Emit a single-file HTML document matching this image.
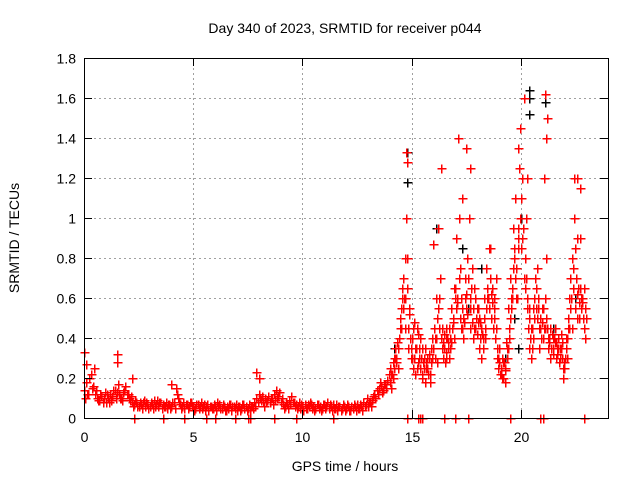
<!DOCTYPE html>
<html><head><meta charset="utf-8"><style>
body{margin:0;background:#fff}
svg{display:block;font-family:"Liberation Sans",sans-serif}
</style></head><body>
<svg id="chart" width="640" height="480">
<rect width="640" height="480" fill="#fff"/>
<text x="345" y="33" font-size="14" text-anchor="middle">Day 340 of 2023, SRMTID for receiver p044</text>
<text x="345" y="471" font-size="14" text-anchor="middle">GPS time / hours</text>
<text transform="translate(19,238) rotate(-90)" font-size="14" text-anchor="middle">SRMTID / TECUs</text>
<g id="grid"></g>
<g id="marks" shape-rendering="crispEdges"></g>
<rect x="84.5" y="58.5" width="524" height="360" fill="none" stroke="#000"/>
<g id="axes"></g>
</svg>
<script>
const xTicks=[0,5,10,15,20];
const yTicks=[0,0.2,0.4,0.6,0.8,1,1.2,1.4,1.6,1.8];
const yTickLabels=["0","0.2","0.4","0.6","0.8","1","1.2","1.4","1.6","1.8"];
const quietStart=0, quietStep=0.1;
const quietA=[.14,.18,.12,.22,.16,.12,.10,.09,.11,.10,.08,.10,.12,.11,.14,.13,.12,.10,.13,.16,.12,.09,.08,.07,.08,.06,.07,.08,.06,.07,.06,.07,.09,.07,.06,.08,.07,.06,.05,.07,.06,.08,.15,.10,.07,.06,.05,.07,.06,.08,.06,.05,.07,.06,.05,.07,.06,.04,.06,.05,.06,.08,.07,.05,.06,.04,.05,.07,.06,.05,.04,.06,.05,.07,.06,.05,.04,.06,.08,.10,.12,.09,.08,.10,.09,.08,.10,.12,.14,.11,.08,.07,.06,.07,.09,.11,.08,.07,.06,.05,.06,.07,.05,.06,.07,.06,.05,.07,.06,.05,.07,.06,.05,.06,.07,.05,.04,.06,.05,.06,.05,.06,.04,.05,.06,.07,.05,.06,.08,.07,.06,.08,.09,.12,.14,.15,.16,.14,.17,.19];
const quietB=[.10,.12,.20,.15,.25,.14,.09,.12,.08,.13,.12,.08,.09,.14,.10,.17,.10,.09,.14,.12,.10,.11,.06,.09,.06,.08,.05,.09,.08,.05,.08,.05,.06,.09,.08,.05,.06,.08,.07,.05,.08,.05,.12,.08,.05,.08,.07,.05,.08,.06,.04,.07,.05,.08,.06,.04,.07,.06,.05,.07,.04,.06,.05,.07,.04,.06,.07,.04,.06,.07,.06,.04,.07,.05,.04,.07,.06,.05,.06,.08,.10,.11,.06,.08,.11,.10,.07,.09,.10,.13,.10,.05,.08,.05,.07,.08,.06,.05,.08,.07,.04,.05,.07,.08,.05,.04,.07,.05,.04,.07,.05,.08,.07,.04,.05,.07,.06,.04,.07,.04,.07,.04,.06,.07,.04,.05,.07,.04,.06,.10,.08,.06,.11,.10,.12,.18,.13,.17,.15,.22];
const activeStart=14, activeStep=0.1;
const activeA=[.18,.22,.25,.30,.35,.45,.55,.60,.65,.52,.40,.30,.35,.42,.25,.22,.18,.25,.30,.28,.35,.40,.55,.70,.45,.35,.33,.30,.38,.50,.65,.60,.75,.55,.48,.62,.70,.55,.40,.45,.42,.35,.30,.50,.55,.60,.70,.65,.50,.35,.28,.22,.20,.25,.35,.50,.65,.80,.75,.90,1.10,.95,.80,.60,.55,.45,.50,.65,.55,.45,.40,.60,.45,.38,.35,.32,.30,.40,.35,.30,.25,.30,.45,.60,.75,.55,.50,.65,.58,.45];
const activeB=[.25,.28,.35,.38,.40,.55,.70,1.33,.45,.40,.30,.48,.25,.35,.30,.28,.35,.30,.22,.40,.45,.60,.95,.40,.30,.28,.40,.45,.55,.65,.90,1.40,.50,.45,.70,.80,1.00,.65,.55,.60,.55,.48,.42,.60,.75,.85,.50,.45,.40,.30,.35,.30,.28,.38,.55,.70,.95,1.10,.60,1.25,.85,.70,1.00,.45,.40,.35,.60,.75,.45,.40,.55,.45,.35,.45,.42,.40,.38,.35,.42,.25,.30,.40,.60,.80,1.00,.70,.65,.90,.60,.55];
const activeC=[.15,.20,.30,.25,.45,.65,.60,1.00,.35,.30,.25,.22,.45,.30,.20,.25,.28,.22,.18,.30,.30,.28,.60,1.25,.38,.30,.35,.40,.45,.40,.55,1.00,.60,.40,.60,.52,.45,.75,.65,.50,.48,.40,.35,.45,.65,.55,.62,.55,.70,.25,.22,.20,.18,.30,.40,.60,.75,.70,.85,1.45,1.20,1.60,.70,.35,.30,.55,.70,.50,.35,.55,1.20,.80,.40,.30,.35,.45,.32,.28,.35,.20,.35,.50,.70,.45,1.20,.90,.50,.60,.50,.40];
const activeD=[.22,.30,.28,.35,.50,.60,.45,.80,.55,.35,.45,.35,.28,.40,.35,.30,.25,.32,.35,.35,.40,.50,.45,.35,.42,.40,.38,.35,.48,.60,.58,.70,.45,.50,.55,.70,.60,.48,.45,.55,.50,.45,.40,.40,.60,.70,.58,.60,.45,.30,.25,.28,.24,.35,.45,.55,.85,.60,.95,1.00,.90,.65,.55,.50,.45,.40,.55,.60,.50,.48,.45,.50,.40,.35,.40,.38,.35,.30,.38,.28,.40,.45,.55,.65,.85,.62,.58,.55,.65,.50];
const spikeT=[0,0.1,1.5,1.5,2.2,4.0,7.9,8.0,17.5,17.7,19.9,20.3,21.1,21.2,21.15,22.6,22.7,14.8,16.0,17.3,14.7,16.6,18.6,19.6];
const spikeV=[0.33,0.27,0.32,0.28,0.2,0.17,0.23,0.2,1.35,1.25,1.35,1.2,1.62,1.5,1.4,1.2,1.15,1.28,0.87,1.1,0.8,0.45,0.85,0.6];
const zeroT=[2.3,3.6,4.6,5.6,6.0,6.9,7.5,7.6,8.7,9.7,11.4,14.8,15.3,15.4,15.5,16.5,17.0,17.6,19.5,20.9,21.0,22.9];
const blackT=[14.8,14.8,20.4,20.4,20.4,21.1,16.1,17.3,20.0,19.7,19.9,21.5,22.5,17.6,14.2,18.2,19.3];
const blackV=[1.33,1.18,1.64,1.6,1.52,1.58,0.95,0.85,1.0,0.5,0.35,0.45,0.6,0.55,0.35,0.75,0.3];

const X0=84,X1=608,Y0=418,Y1=58,XMAX=24,YMAX=1.8;
const xs=t=>X0+(t/XMAX)*(X1-X0);
const ys=v=>Y0-(v/YMAX)*(Y0-Y1);
const NS="http://www.w3.org/2000/svg";
const grid=document.getElementById('grid'),marks=document.getElementById('marks'),axes=document.getElementById('axes');
function line(p,x1,y1,x2,y2,st,dash){const l=document.createElementNS(NS,'line');l.setAttribute('x1',x1);l.setAttribute('y1',y1);l.setAttribute('x2',x2);l.setAttribute('y2',y2);l.setAttribute('stroke',st);if(dash)l.setAttribute('stroke-dasharray',dash);p.appendChild(l);return l;}
function txt(p,x,y,s,anchor){const t=document.createElementNS(NS,'text');t.setAttribute('x',x);t.setAttribute('y',y);t.setAttribute('font-size','14');t.setAttribute('text-anchor',anchor);t.textContent=s;p.appendChild(t);return t;}
yTicks.forEach((v,i)=>{const y=Math.round(ys(v))+0.5;
 if(i>0&&i<yTicks.length-1){const g=line(grid,X0,y,X1,y,'#a0a0a0','2,3');
 
 }
 line(axes,X0,y,X0+8,y,'#000');line(axes,X1-8,y,X1,y,'#000');
 const t=txt(axes,X0-8,y+5,yTickLabels[i],'end');
 
 });
xTicks.forEach(v=>{const x=Math.round(xs(v))+0.5;
 if(v>0){const g=line(grid,x,Y1,x,Y0,'#a0a0a0','2,3');
 
 }
 line(axes,x,Y0,x,Y0-8,'#000');line(axes,x,Y1,x,Y1+8,'#000');
 const t=txt(axes,x,Y0+24,String(v),'middle');
 
 });
function plus(t,v,col){const x=Math.round(xs(t))+0.5,y=Math.round(ys(v))+0.5;const p=document.createElementNS(NS,'path');
 p.setAttribute('d',`M${x-4} ${y}H${x+5}M${x} ${y-4}V${y+5}`);p.setAttribute('stroke',col);p.setAttribute('stroke-width','1.5');p.setAttribute('fill','none');
 
 
 marks.appendChild(p);}
blackT.forEach((t,i)=>plus(t,blackV[i],'#000'));
const R='#ff0000';
quietA.forEach((v,i)=>plus(quietStart+i*quietStep,v,R));
quietB.forEach((v,i)=>plus(quietStart+i*quietStep+0.05,v,R));
activeA.forEach((v,i)=>plus(activeStart+i*activeStep,v,R));
activeB.forEach((v,i)=>plus(activeStart+i*activeStep+0.03,v,R));
activeC.forEach((v,i)=>plus(activeStart+i*activeStep+0.06,v,R));
activeD.forEach((v,i)=>plus(activeStart+i*activeStep+0.08,v,R));
spikeT.forEach((t,i)=>plus(t,spikeV[i],R));
zeroT.forEach(t=>plus(t,0,R));
</script>
</body></html>
